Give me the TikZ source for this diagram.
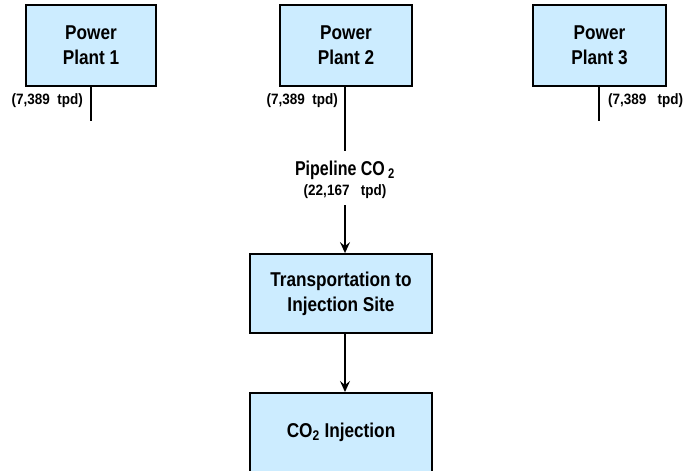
\documentclass[tikz,border=0pt]{standalone}
\usepackage{fontspec}
\usepackage{xcolor}
\setmainfont{Liberation Sans}
\newfontfamily\boxfont{Liberation Sans}[FakeStretch=0.86]
\newfontfamily\flowfont{Liberation Sans}[FakeStretch=0.9]
\newfontfamily\pipefont{Liberation Sans}[FakeStretch=0.8]
\usetikzlibrary{arrows.meta}
\definecolor{boxblue}{HTML}{CCECFF}

\begin{document}
\begin{tikzpicture}[x=1pt,y=-1pt,every text node part/.style={align=center}]
\tikzstyle{every node}+=[inner sep=0pt]
\tikzstyle{unit}=[draw=black,line width=1.8pt,fill=boxblue,font=\boxfont\fontsize{20}{25}\selectfont\bfseries]
\tikzstyle{flow}=[font=\flowfont\fontsize{15}{17}\selectfont\bfseries]
\tikzstyle{pipe}=[black,line width=1.6pt]
\tikzstyle{arr}=[pipe,-{Stealth[length=11pt,width=10pt,inset=4pt]}]
\clip (0,0) rectangle (683,471);
% power plants
\node [unit,minimum width=130pt,minimum height=81pt] (pp1) at (91,45.5) {Power \\ Plant 1};
\node [unit,minimum width=132pt,minimum height=81pt] (pp2) at (346,45.5) {Power \\ Plant 2};
\node [unit,minimum width=133pt,minimum height=81pt] (pp3) at (599.5,45.5) {Power \\ Plant 3};
% pipe ends
\coordinate (e1) at (91,121);
\coordinate (e2) at (345,151);
\coordinate (e3) at (599,121);
\draw [pipe] (pp1.south) -- (e1);
\draw [pipe] (pp2.south -| e2) -- (e2);
\draw [pipe] (pp3.south -| e3) -- (e3);
\node [flow,anchor=east] (f1) at (83,101) {(7,389\ \ tpd)};
\node [flow,anchor=east] (f2) at (338,101) {(7,389\ \ tpd)};
\node [flow,anchor=west] (f3) at (608,101) {(7,389\ \ \ tpd)};
% pipeline
\node [font=\pipefont\fontsize{20}{22}\selectfont\bfseries] (pl) at (345,170) {Pipeline CO\,\textsubscript{2}};
\node [flow] (plt) at (345,192) {(22,167\ \ \ tpd)};
\coordinate (s2) at (345,205);
% transport and injection
\node [unit,minimum width=182pt,minimum height=79pt] (tr) at (341,293.5) {Transportation to \\ Injection Site};
\node [unit,minimum width=182pt,minimum height=120pt,anchor=north] (inj) at (341,392) {};
\node [font=\boxfont\fontsize{20}{22}\selectfont\bfseries] (injt) at (341,432) {CO\textsubscript{2} Injection};
\draw [arr] (s2) -- (s2 |- tr.north);
\draw [arr] (tr.south -| s2) -- (inj.north -| s2);
\end{tikzpicture}
\end{document}
